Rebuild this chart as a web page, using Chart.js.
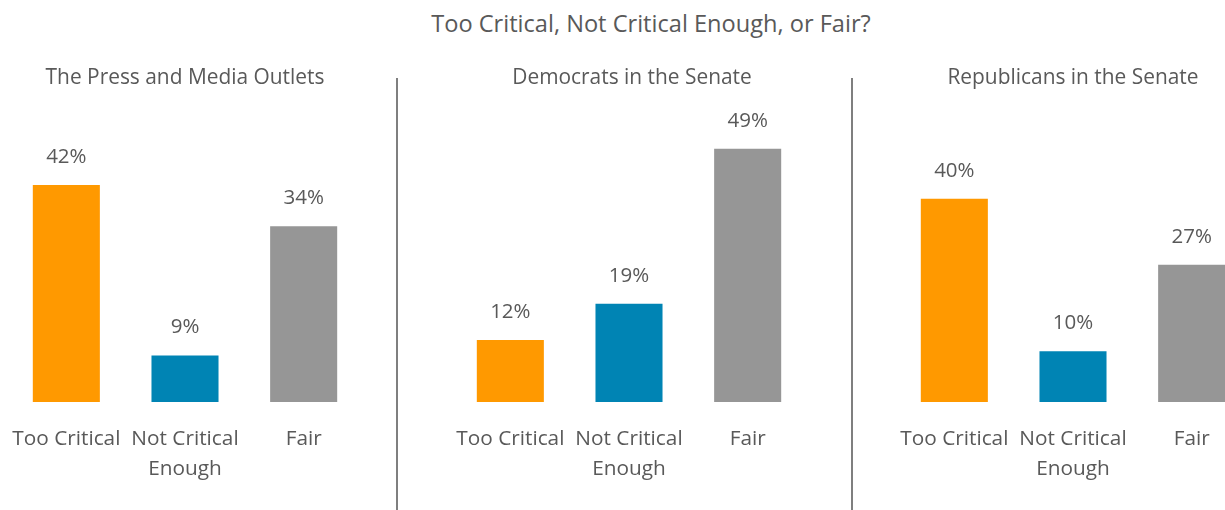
<!DOCTYPE html>
<html>
<head>
<meta charset="utf-8">
<script src="https://cdn.jsdelivr.net/npm/chart.js@4/dist/chart.umd.min.js"></script>
<style>
  html, body { margin: 0; padding: 0; background: #ffffff; }
  body { width: 1225px; height: 510px; overflow: hidden; position: relative; font-family: "Open Sans", sans-serif; }
  #title { position: absolute; left: 0; top: 7px; width: 1302px; text-align: center; font-size: 23.6px; color: #595959; line-height: 32px; }
  .panel { position: absolute; top: 0; width: 444px; height: 510px; }
  .divider { position: absolute; top: 78px; width: 2px; height: 432px; background: #7f7f7f; }
</style>
</head>
<body>
<div id="title">Too Critical, Not Critical Enough, or Fair?</div>
<div class="panel" style="left:0px"><canvas id="c1" width="444" height="510"></canvas></div>
<div class="panel" style="left:444px"><canvas id="c2" width="444" height="510"></canvas></div>
<div class="panel" style="left:888px"><canvas id="c3" width="444" height="510"></canvas></div>
<div class="divider" style="left:396px"></div>
<div class="divider" style="left:851px"></div>
<script>
const categories = [["Too Critical"], ["Not Critical", "Enough"], ["Fair"]];
const panelTitles = ["The Press and Media Outlets", "Democrats in the Senate", "Republicans in the Senate"];
const pressValues = [42, 9, 34];
const democratsValues = [12, 19, 49];
const republicansValues = [40, 10, 27];
const axisMax = [60, 60, 61];
const barColors = ["#ff9900", "#0084b4", "#969696"];
const textColor = "#595959";
const fontFamily = "'Open Sans', sans-serif";

const valueLabels = {
  id: "valueLabels",
  afterDatasetsDraw(chart) {
    const ctx = chart.ctx;
    ctx.save();
    ctx.font = "20.5px " + fontFamily;
    ctx.fillStyle = textColor;
    ctx.textAlign = "center";
    ctx.textBaseline = "middle";
    const meta = chart.getDatasetMeta(0);
    meta.data.forEach((bar, i) => {
      ctx.fillText(chart.data.datasets[0].data[i] + "%", bar.x, bar.y - 28);
    });
    ctx.restore();
  }
};

const panelTitle = {
  id: "panelTitle",
  afterDraw(chart, args, opts) {
    const ctx = chart.ctx;
    ctx.save();
    ctx.font = "20.9px " + fontFamily;
    ctx.fillStyle = textColor;
    ctx.textAlign = "center";
    ctx.textBaseline = "middle";
    const xs = chart.scales.x;
    ctx.fillText(opts.text, (xs.left + xs.right) / 2 + opts.dx, 78);
    ctx.restore();
  }
};

function makeChart(id, values, title, dx, yMax) {
  return new Chart(document.getElementById(id), {
    type: "bar",
    data: {
      labels: categories,
      datasets: [{
        data: values,
        backgroundColor: barColors,
        categoryPercentage: 1.0,
        barPercentage: 0.565
      }]
    },
    options: {
      responsive: false,
      animation: false,
      layout: { padding: { top: 92, left: 7, right: 81, bottom: 0 } },
      plugins: {
        legend: { display: false },
        tooltip: { enabled: false },
        title: { display: false },
        panelTitle: { text: title, dx: dx }
      },
      scales: {
        y: { display: false, min: 0, max: yMax },
        x: {
          grid: { display: false },
          border: { display: false },
          afterFit(scale) {
            scale.height = 108;
            scale.paddingLeft = 0;
            scale.paddingRight = 0;
          },
          ticks: {
            color: textColor,
            font: { family: fontFamily, size: 20.8, lineHeight: 1.45 },
            padding: 14,
            maxRotation: 0,
            autoSkip: false
          }
        }
      }
    },
    plugins: [valueLabels, panelTitle]
  });
}

makeChart("c1", pressValues, panelTitles[0], 0, axisMax[0]);
makeChart("c2", democratsValues, panelTitles[1], 3, axisMax[1]);
makeChart("c3", republicansValues, panelTitles[2], 0, axisMax[2]);
</script>
</body>
</html>
